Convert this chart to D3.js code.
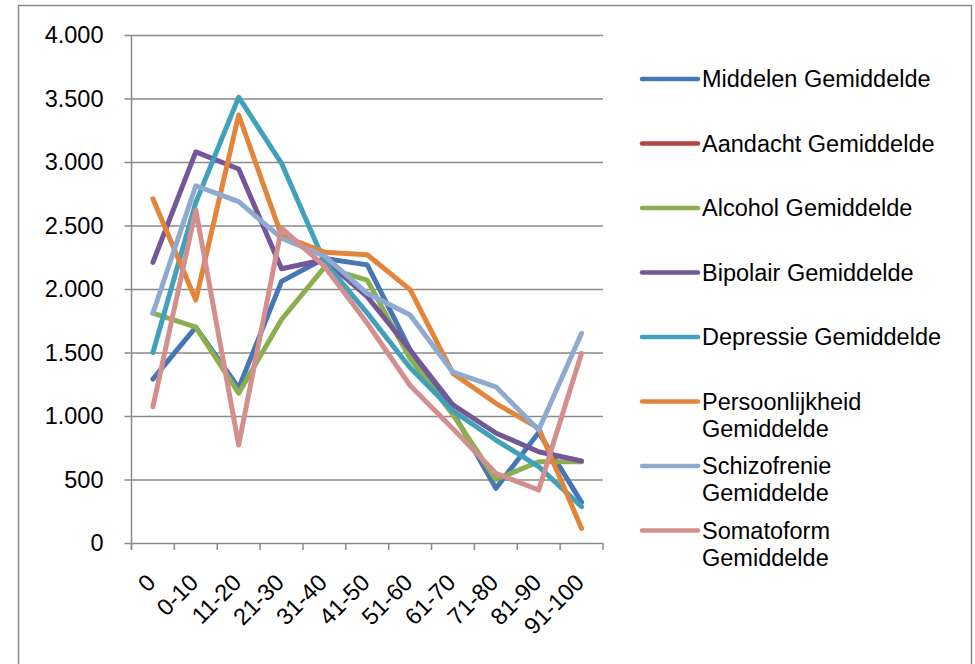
<!DOCTYPE html>
<html>
<head>
<meta charset="utf-8">
<script src="https://cdn.jsdelivr.net/npm/d3@7"></script>
<style>
  body { margin: 0; background: #fff; }
  svg { display: block; font-family: "Liberation Sans", Arial, sans-serif; }
</style>
</head>
<body>
<svg id="chart" width="975" height="664"></svg>
<script>
const categories = ["0", "0-10", "11-20", "21-30", "31-40", "41-50", "51-60", "61-70", "71-80", "81-90", "91-100"];

const middelen = [1290, 1700, 1220, 2060, 2240, 2190, 1520, 1030, 430, 870, 320];
const aandacht = [null, null, null, null, null, null, null, null, null, null, null];
const alcohol = [1810, 1700, 1180, 1760, 2170, 2070, 1450, 1010, 500, 640, 640];
const bipolair = [2210, 3080, 2945, 2160, 2230, 1940, 1520, 1087, 866, 719, 646];
const depressie = [1500, 2680, 3510, 2990, 2215, 1810, 1380, 1040, 811, 601, 286];
const persoonlijkheid = [2710, 1913, 3370, 2420, 2290, 2270, 1995, 1336, 1100, 903, 115];
const schizofrenie = [1810, 2813, 2688, 2400, 2260, 1966, 1795, 1345, 1230, 890, 1651];
const somatoform = [1073, 2622, 772, 2480, 2180, 1730, 1240, 900, 549, 417, 1494];

const yTicks = [0, 500, 1000, 1500, 2000, 2500, 3000, 3500, 4000];

const series = [
  { name: "Middelen Gemiddelde", values: middelen, color: "#4676b4" },
  { name: "Aandacht Gemiddelde", values: aandacht, color: "#b24543" },
  { name: "Alcohol Gemiddelde", values: alcohol, color: "#8dae4f" },
  { name: "Bipolair Gemiddelde", values: bipolair, color: "#735796" },
  { name: "Depressie Gemiddelde", values: depressie, color: "#41a0ba" },
  { name: "Persoonlijkheid Gemiddelde", values: persoonlijkheid, color: "#e3843b", lines: ["Persoonlijkheid", "Gemiddelde"] },
  { name: "Schizofrenie Gemiddelde", values: schizofrenie, color: "#8faad1", lines: ["Schizofrenie", "Gemiddelde"] },
  { name: "Somatoform Gemiddelde", values: somatoform, color: "#d38f8e", lines: ["Somatoform", "Gemiddelde"] }
];

const svg = d3.select("#chart");
const plot = { left: 131.5, right: 603, top: 35, bottom: 543 };
const gridColor = "#8a8a8a";
const fontSize = 23.5;

const nl = d3.formatLocale({ decimal: ",", thousands: ".", grouping: [3], currency: ["€", ""] });
const fmt = nl.format(",d");

// outer frame
svg.append("rect")
  .attr("x", 18.5).attr("y", 5.5)
  .attr("width", 953).attr("height", 720)
  .attr("fill", "none")
  .attr("stroke", "#8c8c8c")
  .attr("stroke-width", 1.5);

const x = d3.scaleBand().domain(categories).range([plot.left, plot.right]);
const y = d3.scaleLinear().domain([0, 4000]).range([plot.bottom, plot.top]);

// gridlines + y axis
const yAxis = svg.append("g")
  .attr("transform", `translate(${plot.left},0)`)
  .call(d3.axisLeft(y).tickValues(yTicks).tickSize(7).tickPadding(21).tickFormat(fmt));
yAxis.select(".domain").attr("stroke", gridColor).attr("stroke-width", 1.5)
  .attr("d", `M0,${plot.top}V${plot.bottom + 6}`);
yAxis.selectAll(".tick line").attr("stroke", gridColor).attr("stroke-width", 1.5);
yAxis.selectAll(".tick").append("line")
  .attr("x1", 0).attr("x2", plot.right - plot.left)
  .attr("stroke", gridColor).attr("stroke-width", 1.5);
yAxis.selectAll(".tick text")
  .attr("fill", "#000")
  .style("font-size", fontSize + "px")
  .style("font-family", "Liberation Sans, Arial, sans-serif");

// x axis tick marks at category boundaries
const bounds = categories.map(c => x(c)).concat([plot.right]);
svg.append("g").selectAll("line")
  .data(bounds)
  .join("line")
  .attr("x1", d => d).attr("x2", d => d)
  .attr("y1", plot.bottom).attr("y2", plot.bottom + 7)
  .attr("stroke", gridColor).attr("stroke-width", 1.5);

// x labels, rotated
svg.append("g").selectAll("text")
  .data(categories)
  .join("text")
  .attr("transform", d => `translate(${x(d) + x.bandwidth() / 2 + 4},${plot.bottom + 41}) rotate(-45)`)
  .attr("text-anchor", "end")
  .style("font-size", fontSize + "px")
  .attr("fill", "#000")
  .text(d => d);

// lines
const line = d3.line()
  .defined(d => d.v !== null)
  .x(d => x(d.c) + x.bandwidth() / 2)
  .y(d => y(d.v));

svg.append("g").selectAll("path")
  .data(series)
  .join("path")
  .attr("d", s => line(categories.map((c, i) => ({ c, v: s.values[i] }))))
  .attr("fill", "none")
  .attr("stroke", s => s.color)
  .attr("stroke-width", 5)
  .attr("stroke-linejoin", "round")
  .attr("stroke-linecap", "round");

// legend
const legend = svg.append("g").attr("transform", "translate(642,79)");
const rows = legend.selectAll("g")
  .data(series)
  .join("g")
  .attr("transform", (d, i) => `translate(0,${i * 64.5})`);
rows.append("line")
  .attr("x1", 0).attr("x2", 56)
  .attr("stroke", d => d.color)
  .attr("stroke-width", 4.5)
  .attr("stroke-linecap", "round");
rows.append("text")
  .attr("x", 60)
  .attr("y", 8)
  .style("font-size", fontSize + "px")
  .attr("fill", "#000")
  .selectAll("tspan")
  .data(d => d.lines || [d.name])
  .join("tspan")
  .attr("x", 60)
  .attr("dy", (d, i) => i === 0 ? 0 : 27)
  .text(d => d);
</script>
</body>
</html>
